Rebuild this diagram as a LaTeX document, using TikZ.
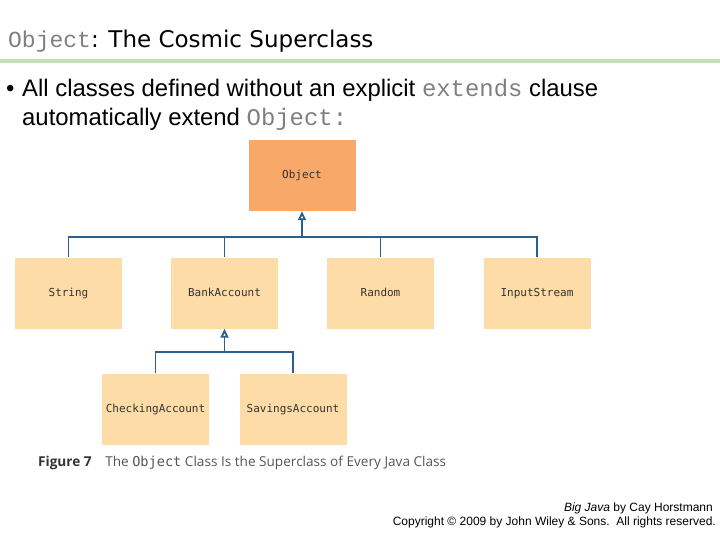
\documentclass[tikz,border=0pt]{standalone}
\usepackage{fontspec}
\setmainfont{Liberation Sans}
\newfontfamily\titlefont{DejaVu Sans}
\newfontfamily\codefont{Liberation Mono}
\newfontfamily\boxfont{DejaVu Sans Mono}
\newfontfamily\capfont{Open Sans}
\usetikzlibrary{positioning,arrows.meta}
\definecolor{objorange}{HTML}{F8A868}
\definecolor{classtan}{HTML}{FDDCA8}
\definecolor{linkblue}{HTML}{2E5E8E}
\definecolor{rulegreen}{HTML}{C5E0B3}
\definecolor{codegray}{HTML}{7F7F7F}
\definecolor{capgray}{HTML}{555555}

\begin{document}
\begin{tikzpicture}[x=1pt,y=-1pt]
            \tikzstyle{box}=[fill=classtan,minimum width=107pt,minimum height=71pt,inner sep=0pt,text height=8pt,text depth=2pt,text=black!80,font=\boxfont\fontsize{11}{12}\selectfont]
            \tikzstyle{link}=[draw=linkblue,line width=1.8pt]
            \tikzstyle{isa}=[link,-{Triangle[open,width=8pt,length=9pt,fill=white]}]
            \useasboundingbox (0,0) rectangle (720,540);

            % heading
            \node[anchor=base west,inner sep=0pt,font=\fontsize{23}{26}\selectfont] (title) at (8,48) {{\codefont\color{codegray}Object}{\titlefont: The Cosmic Superclass}};
            \fill[rulegreen] (0,59) rectangle (720,63);
            \node[anchor=base west,inner sep=0pt,font=\fontsize{23.9}{26}\selectfont] (dot) at (6,97) {\textbullet};
            \node[anchor=base west,inner sep=0pt,font=\fontsize{23.9}{26}\selectfont] (line1) at (22,97) {All classes defined without an explicit {\codefont\color{codegray}extends} clause};
            \node[anchor=base west,inner sep=0pt,font=\fontsize{23.9}{26}\selectfont] (line2) at (22,126) {automatically extend {\codefont\color{codegray}Object:}};

            % class boxes
            \node[box,fill=objorange] (obj) at (302,175.5) {Object};
            \node[box] (str) at (68.5,293) {String};
            \node[box] (bank) at (224.5,293) {BankAccount};
            \node[box] (rand) at (380.5,293) {Random};
            \node[box] (inp) at (537,293) {InputStream};
            \node[box] (chk) at (155.5,409) {CheckingAccount};
            \node[box] (sav) at (293,409) {SavingsAccount};

            % inheritance
            \coordinate (bar1) at (302,237);
            \coordinate (bar2) at (224.5,352);
            \draw[link] (str.north) |- (inp.north |- bar1) -- (inp.north);
            \draw[link] (bank.north) -- (bank.north |- bar1);
            \draw[link] (rand.north) -- (rand.north |- bar1);
            \draw[isa] (bar1) -- (obj.south);
            \draw[link] (chk.north) |- (sav.north |- bar2) -- (sav.north);
            \draw[isa] (bar2) -- (bank.south);

            % caption and credits
            \node[anchor=base west,inner sep=0pt,font=\capfont\fontsize{13.6}{15}\selectfont,text=capgray] (cap) at (38,466) {\textbf{\color{black!80}Figure 7}\hspace{1em}The {\boxfont Object} Class Is the Superclass of Every Java Class};
            \node[anchor=base east,inner sep=0pt,font=\fontsize{12}{13}\selectfont] (book) at (713,511) {\textit{Big Java} by Cay Horstmann};
            \node[anchor=base east,inner sep=0pt,font=\fontsize{12}{13}\selectfont] (copy) at (716,525) {Copyright \textcopyright{} 2009 by John Wiley \& Sons.\ \ All rights reserved.};
        \end{tikzpicture}
\end{document}
